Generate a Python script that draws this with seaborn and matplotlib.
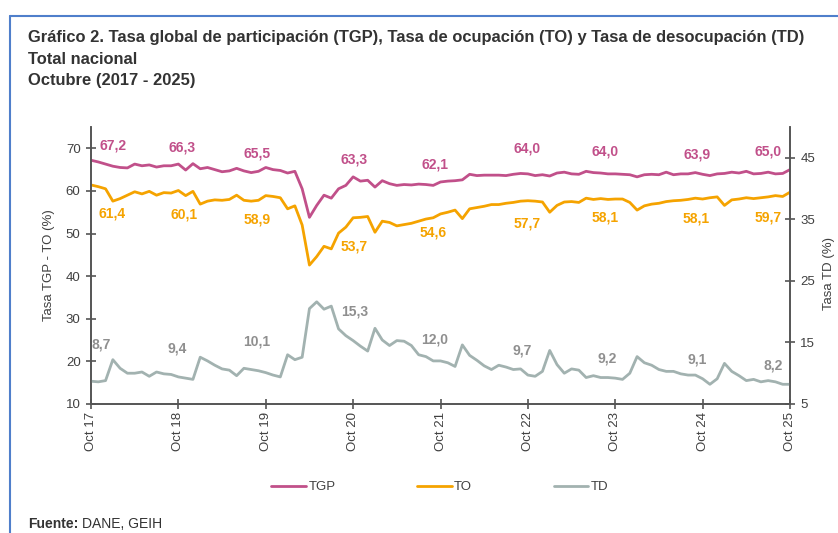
import numpy as np
import pandas as pd
import seaborn as sns
import matplotlib.pyplot as plt
from matplotlib.lines import Line2D

sns.set_theme(style="white")
plt.rcParams['font.family'] = ['Liberation Sans', 'DejaVu Sans']

# monthly series, Oct 2017 .. Oct 2025 (97 months)
tgp = [67.2, 66.8, 66.3, 65.8, 65.5, 65.4, 66.3, 65.9, 66.1, 65.6, 65.9, 65.9,
       66.3, 64.9, 66.4, 65.2, 65.5, 65.0, 64.5, 64.7, 65.3, 64.7, 64.3, 64.6,
       65.5, 65.0, 64.8, 64.2, 64.6, 60.5, 53.8, 56.6, 59.0, 58.3, 60.5, 61.3,
       63.3, 62.3, 62.5, 60.9, 62.4, 61.7, 61.3, 61.5, 61.4, 61.6, 61.5, 61.3,
       62.1, 62.3, 62.4, 62.6, 63.9, 63.6, 63.7, 63.7, 63.7, 63.6, 63.9, 64.1,
       64.0, 63.6, 63.8, 63.5, 64.2, 64.4, 64.0, 63.9, 64.6, 64.3, 64.2, 64.0,
       64.0, 63.9, 63.8, 63.3, 63.8, 63.9, 63.8, 64.4, 63.8, 64.0, 64.0, 64.3,
       63.9, 63.6, 64.0, 64.1, 64.4, 64.2, 64.6, 64.0, 64.1, 64.4, 64.0, 64.1,
       65.0]
to = [61.4, 61.0, 60.5, 57.6, 58.2, 59.0, 59.8, 59.3, 59.9, 59.0, 59.6, 59.5,
      60.1, 58.9, 59.9, 56.9, 57.6, 57.9, 57.8, 58.0, 59.0, 57.8, 57.6, 57.8,
      58.9, 58.7, 58.4, 55.8, 56.5, 52.0, 42.6, 44.6, 47.0, 46.4, 50.1, 51.5,
      53.7, 53.8, 54.0, 50.3, 52.9, 52.6, 51.8, 52.1, 52.4, 52.9, 53.4, 53.7,
      54.6, 55.0, 55.5, 53.5, 55.8, 56.1, 56.4, 56.8, 56.8, 57.1, 57.3, 57.6,
      57.7, 57.6, 57.4, 55.0, 56.6, 57.4, 57.5, 57.3, 58.3, 58.0, 58.2, 58.0,
      58.1, 58.1, 57.3, 55.5, 56.5, 56.9, 57.1, 57.5, 57.7, 57.8, 58.0, 58.3,
      58.1, 58.4, 58.6, 56.6, 57.9, 58.1, 58.4, 58.2, 58.4, 58.6, 58.9, 58.7,
      59.7]
td = [8.7, 8.6, 8.8, 12.2, 10.8, 10.0, 10.0, 10.2, 9.5, 10.2, 9.9, 9.8,
      9.4, 9.2, 9.0, 12.6, 12.0, 11.3, 10.7, 10.5, 9.6, 10.8, 10.6, 10.4,
      10.1, 9.7, 9.4, 13.0, 12.2, 12.6, 20.5, 21.6, 20.4, 20.9, 17.2, 16.1,
      15.3, 14.4, 13.6, 17.3, 15.4, 14.5, 15.3, 15.2, 14.5, 13.0, 12.7, 12.0,
      12.0, 11.7, 11.1, 14.6, 12.9, 12.1, 11.2, 10.6, 11.3, 11.0, 10.6, 10.7,
      9.7, 9.5, 10.3, 13.7, 11.4, 10.0, 10.7, 10.5, 9.3, 9.6, 9.3, 9.3,
      9.2, 9.0, 10.0, 12.7, 11.7, 11.3, 10.6, 10.3, 10.3, 9.9, 9.7, 9.7,
      9.1, 8.2, 9.1, 11.6, 10.3, 9.6, 8.8, 9.0, 8.6, 8.8, 8.6, 8.2,
      8.2]
oct_labels = ['Oct 17', 'Oct 18', 'Oct 19', 'Oct 20', 'Oct 21',
              'Oct 22', 'Oct 23', 'Oct 24', 'Oct 25']

df = pd.DataFrame({'mes': np.arange(len(tgp)), 'TGP': tgp, 'TO': to, 'TD': td})
oct_idx = df['mes'][::12].to_list()

c_tgp, c_to, c_td = '#C1508A', '#F5A300', '#A2B2B0'
c_txt = '#404040'

fig = plt.figure(figsize=(8.38, 5.33), dpi=100)
ax = fig.add_axes([91/838, 1 - 404/533, 699/838, 277/533])
ax2 = ax.twinx()

sns.lineplot(data=df, x='mes', y='TGP', ax=ax, color=c_tgp, lw=2.0, label='TGP', legend=False)
sns.lineplot(data=df, x='mes', y='TO', ax=ax, color=c_to, lw=2.0, label='TO', legend=False)
sns.lineplot(data=df, x='mes', y='TD', ax=ax2, color=c_td, lw=2.0, label='TD', legend=False)

ax.set_xlim(0, 96)
ax.set_ylim(10, 75)
ax2.set_ylim(5, 50)
ax.set_yticks(range(10, 71, 10))
ax2.set_yticks(range(5, 46, 10))
ax.set_xticks(oct_idx)
ax.set_xticklabels(oct_labels, rotation=90)
ax.set_xlabel('')
ax.set_ylabel('Tasa TGP - TO (%)', fontsize=9.5, color=c_txt)
ax.yaxis.set_label_coords(-0.052, 0.5)
ax2.set_ylabel('Tasa TD (%)', fontsize=9.5, color=c_txt)
ax2.yaxis.set_label_coords(1.047, 0.47)

for a in (ax, ax2):
    a.spines['top'].set_visible(False)
    for s in ('left', 'right', 'bottom'):
        a.spines[s].set_color('#555555')
        a.spines[s].set_linewidth(1.2)
    a.tick_params(direction='inout', length=7, width=1.2, color='#555555',
                  labelsize=9.5, labelcolor=c_txt)
ax.tick_params(axis='x', pad=2)
ax.tick_params(axis='y', left=True, pad=4)
ax2.tick_params(axis='y', right=True, pad=4)
ax.tick_params(axis='x', bottom=True)

# data labels at each October (offsets in pixels)
off_tgp = [(22, 15), (4, 17), (-9, 14), (1, 17), (-6, 17), (-1, 25), (-10, 22), (-6, 20), (-22, 18)]
off_to = [(21, -29), (6, -24), (-9, -24), (1, -29), (-7, -19), (-1, -23), (-10, -18), (-7, -19), (-22, -25)]
off_td = [(10, 37), (-1, 28), (-9, 31), (2, 29), (-6, 21), (-6, 25), (-8, 20), (-5, 19), (-17, 19)]

def put_labels(a, col, offs, color):
    for k, i in enumerate(oct_idx):
        v = df[col][i]
        a.annotate(f'{v:.1f}'.replace('.', ','), xy=(i, v), xytext=offs[k],
                   textcoords='offset pixels', ha='center', va='center',
                   fontsize=10, fontweight='bold', color=color, annotation_clip=False)

put_labels(ax, 'TGP', off_tgp, c_tgp)
put_labels(ax, 'TO', off_to, c_to)
put_labels(ax2, 'TD', off_td, '#8F8F8F')

h1, l1 = ax.get_legend_handles_labels()
h2, l2 = ax2.get_legend_handles_labels()
fig.legend(h1 + h2, l1 + l2, loc='center', bbox_to_anchor=(0.525, 1 - 487/533),
           ncol=3, frameon=False, fontsize=9.5, handlelength=2.6, handletextpad=0.2,
           columnspacing=6.2, labelcolor=c_txt)

title = ('Gráfico 2. Tasa global de participación (TGP), Tasa de ocupación (TO) y Tasa de desocupación (TD)\n'
         'Total nacional\nOctubre (2017 - 2025)')
fig.text(28/838, 1 - 30/533, title, ha='left', va='top', fontsize=11.9,
         fontweight='bold', color='#333333', linespacing=1.55)
fig.text(28/838, 1 - 517/533, 'Fuente:', ha='left', va='top', fontsize=10,
         fontweight='bold', color='#333333')
fig.text(82/838, 1 - 517/533, 'DANE, GEIH', ha='left', va='top', fontsize=10,
         color='#333333')

# blue frame around the figure
fig.add_artist(Line2D([10/838, 10/838], [0, 1 - 16/533], transform=fig.transFigure,
                      color='#4F7FCB', lw=1.5))
fig.add_artist(Line2D([10/838, 1], [1 - 16/533, 1 - 16/533], transform=fig.transFigure,
                      color='#4F7FCB', lw=1.5))

fig.savefig('out.png', dpi=100)
